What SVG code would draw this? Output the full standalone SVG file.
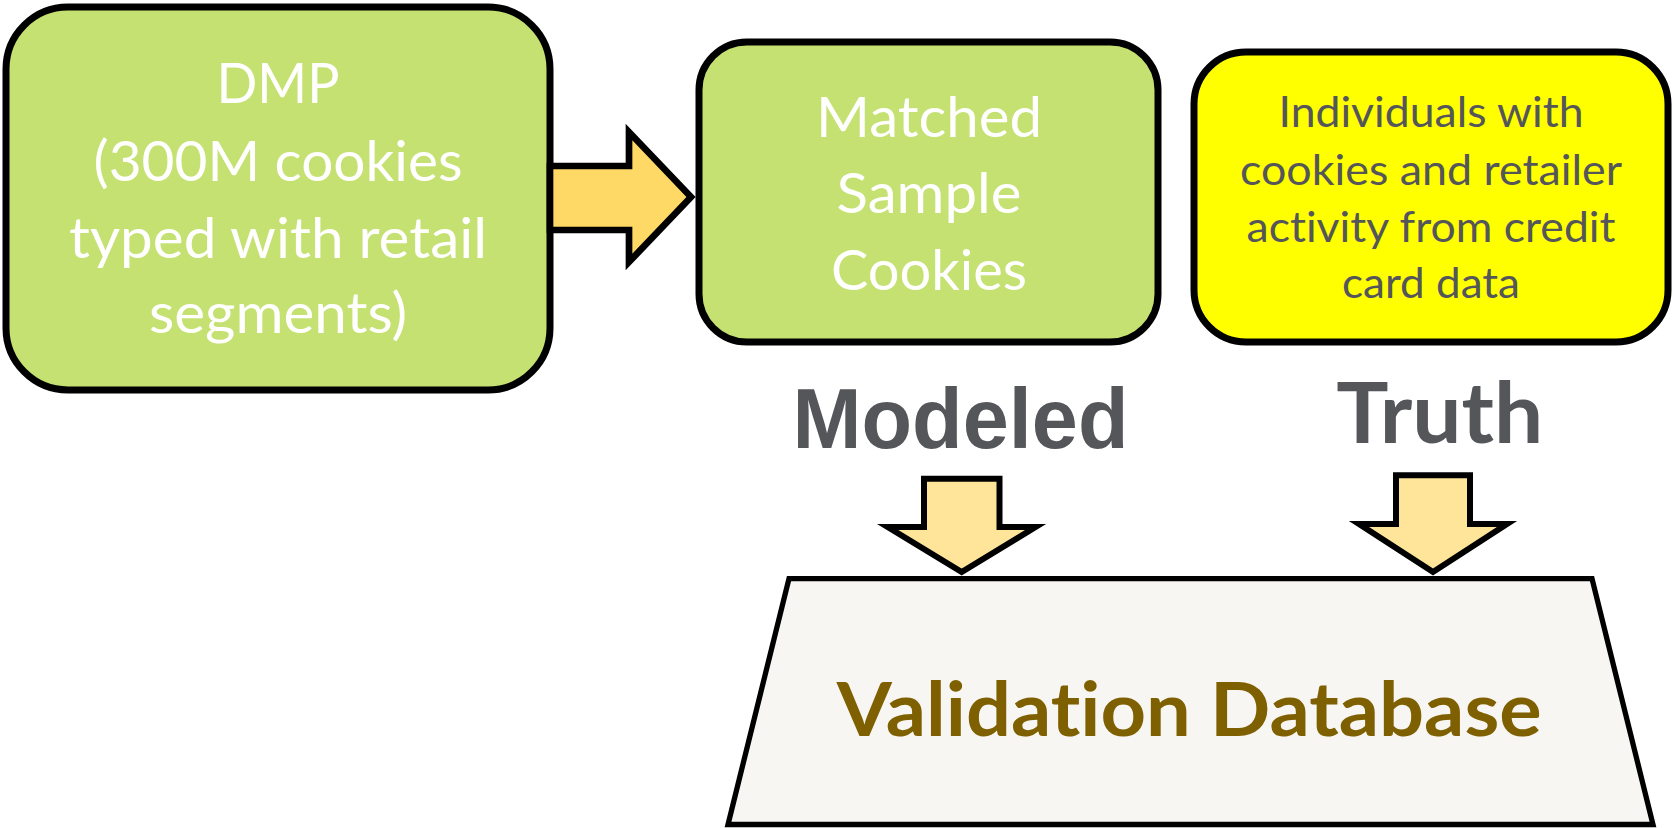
<svg xmlns="http://www.w3.org/2000/svg" width="1674" height="828" viewBox="0 0 1674 828">
<style>
  text { font-variant-ligatures: none; }
  .box { stroke: #000; stroke-width: 7; }
  .green { fill: #C4E171; }
  .yellow { fill: #FFFF00; }
  .arrow { stroke: #000; stroke-linejoin: miter; stroke-miterlimit: 10; }
  .t-white { font-family: Lato, "Open Sans", sans-serif; font-size: 56px; fill: #FFFFFF; text-anchor: middle; }
  .t-gray { font-family: Lato, "Open Sans", sans-serif; font-size: 43px; fill: #54565A; text-anchor: middle; }
  .t-modeled { font-family: "Liberation Sans", Arial, sans-serif; font-weight: bold; font-size: 86px; fill: #555659; text-anchor: middle; }
  .t-truth { font-family: Lato, "Open Sans", sans-serif; font-weight: bold; font-size: 84px; fill: #555659; text-anchor: middle; }
  .t-db { font-family: Lato, "Open Sans", sans-serif; font-weight: bold; font-size: 75.5px; fill: #7F6000; text-anchor: middle; }
</style>
<rect width="1674" height="828" fill="#FFFFFF"/>

<g id="dmp">
  <rect class="box green" x="6" y="7" width="544" height="383" rx="62" ry="62"/>
  <text class="t-white" x="278" y="103.3" textLength="123" lengthAdjust="spacingAndGlyphs">DMP</text>
  <text class="t-white" x="278" y="181" textLength="369" lengthAdjust="spacingAndGlyphs">(300M cookies</text>
  <text class="t-white" x="278" y="257.7" textLength="418" lengthAdjust="spacingAndGlyphs">typed with retail</text>
  <text class="t-white" x="278" y="333.3" textLength="258" lengthAdjust="spacingAndGlyphs">segments)</text>
</g>

<g id="matched">
  <rect class="box green" x="699" y="42" width="459" height="300" rx="48" ry="48"/>
  <text class="t-white" x="929" y="136.7" textLength="226" lengthAdjust="spacingAndGlyphs">Matched</text>
  <text class="t-white" x="929" y="213.3" textLength="185" lengthAdjust="spacingAndGlyphs">Sample</text>
  <text class="t-white" x="929" y="290" textLength="196" lengthAdjust="spacingAndGlyphs">Cookies</text>
</g>

<g id="truth-source">
  <rect class="box yellow" x="1194" y="52" width="474" height="290" rx="52" ry="52"/>
  <text class="t-gray" x="1431" y="127.3" textLength="305" lengthAdjust="spacingAndGlyphs">Individuals with</text>
  <text class="t-gray" x="1431" y="185" textLength="382" lengthAdjust="spacingAndGlyphs">cookies and retailer</text>
  <text class="t-gray" x="1431" y="241.7" textLength="369" lengthAdjust="spacingAndGlyphs">activity from credit</text>
  <text class="t-gray" x="1431" y="298" textLength="178" lengthAdjust="spacingAndGlyphs">card data</text>
</g>

<g id="validation-db">
  <polygon points="789,578.7 1592,578.7 1653,824.5 728,824.5" fill="#F7F6F3" stroke="#000" stroke-width="5.3" stroke-linejoin="miter"/>
  <text class="t-db" x="1189.2" y="736" textLength="705" lengthAdjust="spacingAndGlyphs">Validation Database</text>
</g>

<g id="label-modeled">
  <text class="t-modeled" x="960.5" y="448.3" textLength="336" lengthAdjust="spacingAndGlyphs">Modeled</text>
</g>

<g id="label-truth">
  <text class="t-truth" x="1439.7" y="443.3" textLength="207" lengthAdjust="spacingAndGlyphs">Truth</text>
</g>

<g id="connectors">
  <polygon class="arrow" points="550,166 629,166 629,132 691,197 629,262 629,230 550,230" fill="#FFD966" stroke-width="6.7"/>
  <polygon class="arrow" points="924,478.7 999.5,478.7 999.5,527 1035.5,527 961.7,572 887.7,527 924,527" fill="#FFE599" stroke-width="6"/>
  <polygon class="arrow" points="1396,475.3 1470,475.3 1470,524 1507,524 1433,572 1359,524 1396,524" fill="#FFE599" stroke-width="6"/>
</g>
</svg>
